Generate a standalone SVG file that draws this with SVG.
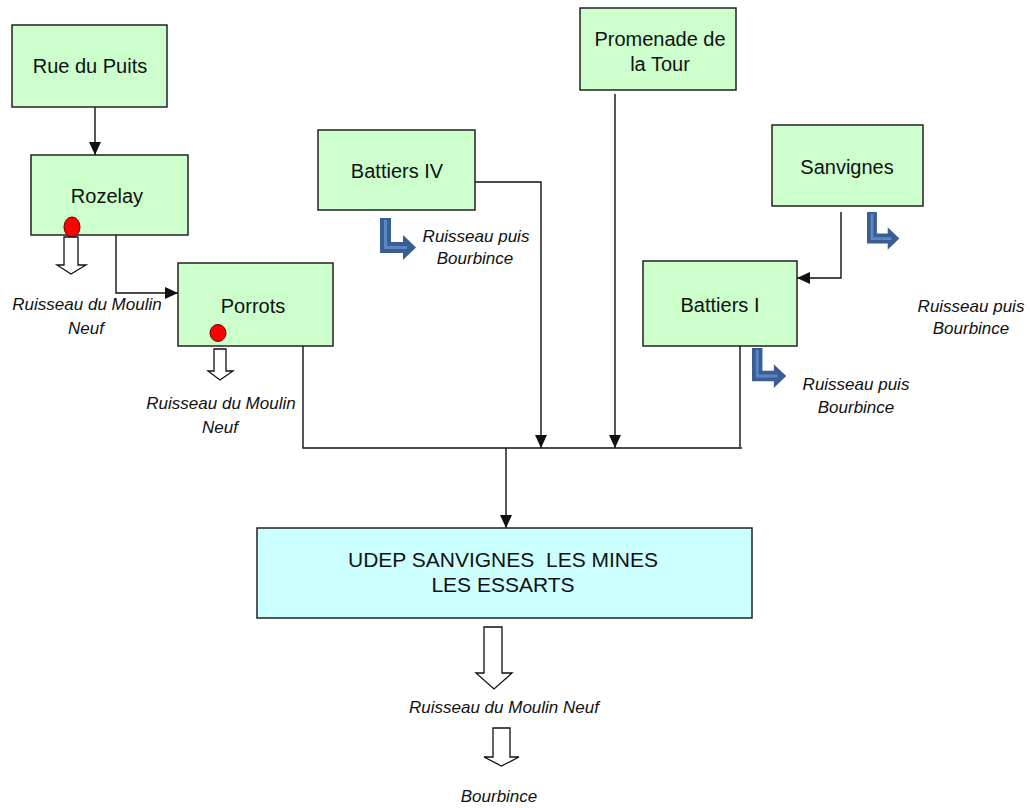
<svg xmlns="http://www.w3.org/2000/svg" width="1030" height="808" viewBox="0 0 1030 808">
<defs>
<style>
.box{fill:#CCFFCC;stroke:#222;stroke-width:1.5}
.udep{fill:#CCFFFF;stroke:#222;stroke-width:1.5}
.lbl{font-family:"Liberation Sans",Arial,sans-serif;font-size:20px;fill:#111;text-anchor:middle}
.ulbl{font-family:"Liberation Sans",Arial,sans-serif;font-size:21px;fill:#111;text-anchor:middle}
.it{font-family:"Liberation Sans",Arial,sans-serif;font-size:17px;font-style:italic;fill:#111;text-anchor:middle}
.con{fill:none;stroke:#111;stroke-width:1.4}
.hollow{fill:#fff;stroke:#111;stroke-width:1.3}
.dot{fill:#f00;stroke:#600;stroke-width:1}
.bent{fill:#3A5E93}
.bentin{fill:none;stroke:#5A86C4;stroke-width:3}
</style>
<marker id="ah" markerUnits="userSpaceOnUse" markerWidth="13" markerHeight="12" refX="13" refY="6" orient="auto">
<path d="M0,0 L13,6 L0,12 z" fill="#111"/>
</marker>
<g id="bentArrow">
<path class="bent" d="M0,0 H11 V24 H23 V17 L36,29.5 L23,42 V35 H0 Z"/>
<path class="bentin" d="M5.5,2 V29.5 H27"/>
</g>
</defs>
<rect width="1030" height="808" fill="#fff"/>

<g id="connectors">
<path class="con" d="M95,107 V155" marker-end="url(#ah)"/>
<path class="con" d="M116,235 V293 H178" marker-end="url(#ah)"/>
<path class="con" d="M303,346 V448 H742"/>
<path class="con" d="M475,182 H541 V448" marker-end="url(#ah)"/>
<path class="con" d="M615,94 V448" marker-end="url(#ah)"/>
<path class="con" d="M841,212 V278 H797" marker-end="url(#ah)"/>
<path class="con" d="M740,346 V447"/>
<path class="con" d="M506,448 V528" marker-end="url(#ah)"/>
</g>

<g id="rue-du-puits">
<rect class="box" x="12" y="25" width="155" height="82"/>
<text class="lbl" x="90" y="73">Rue du Puits</text>
</g>

<g id="rozelay">
<rect class="box" x="31" y="155" width="157" height="80"/>
<text class="lbl" x="107" y="203">Rozelay</text>
<ellipse class="dot" cx="72" cy="227" rx="8" ry="10"/>
<polygon class="hollow" points="64,237 78,237 78,265 86,265 71,274 57,265 64,265"/>
<text class="it" x="87" y="310">Ruisseau du Moulin</text>
<text class="it" x="86" y="334">Neuf</text>
</g>

<g id="porrots">
<rect class="box" x="178" y="263" width="155" height="83"/>
<text class="lbl" x="253" y="313">Porrots</text>
<ellipse class="dot" cx="218" cy="333" rx="8" ry="8.5"/>
<polygon class="hollow" points="214,349 226,349 226,371 233,371 220,380 208,371 214,371"/>
<text class="it" x="221" y="409">Ruisseau du Moulin</text>
<text class="it" x="220" y="433">Neuf</text>
</g>

<g id="battiers-iv">
<rect class="box" x="318" y="130" width="157" height="80"/>
<text class="lbl" x="397" y="178">Battiers IV</text>
<use href="#bentArrow" x="380" y="218"/>
<text class="it" x="476" y="242">Ruisseau puis</text>
<text class="it" x="475" y="264">Bourbince</text>
</g>

<g id="promenade-de-la-tour">
<rect class="box" x="580" y="8" width="156" height="82"/>
<text class="lbl" x="660" y="46">Promenade de</text>
<text class="lbl" x="660" y="71">la Tour</text>
</g>

<g id="sanvignes">
<rect class="box" x="772" y="125" width="151" height="81"/>
<text class="lbl" x="847" y="174">Sanvignes</text>
<use href="#bentArrow" transform="translate(867,212) scale(0.9)"/>
<text class="it" x="971" y="312">Ruisseau puis</text>
<text class="it" x="971" y="334">Bourbince</text>
</g>

<g id="battiers-i">
<rect class="box" x="643" y="261" width="154" height="85"/>
<text class="lbl" x="720" y="312">Battiers I</text>
<use href="#bentArrow" transform="translate(752,348) scale(0.95)"/>
<text class="it" x="856" y="390">Ruisseau puis</text>
<text class="it" x="856" y="413">Bourbince</text>
</g>

<g id="udep">
<rect class="udep" x="257" y="528" width="495" height="90"/>
<text class="ulbl" x="503" y="567" xml:space="preserve">UDEP SANVIGNES  LES MINES</text>
<text class="ulbl" x="503" y="592">LES ESSARTS</text>
</g>

<g id="outflow">
<polygon class="hollow" points="484,627 502,627 502,673 512,673 494,689 476,673 484,673"/>
<text class="it" x="504" y="713">Ruisseau du Moulin Neuf</text>
<polygon class="hollow" points="493,728 510,728 510,757 519,757 501.5,766 484,757 493,757"/>
<text class="it" x="499" y="802">Bourbince</text>
</g>
</svg>
